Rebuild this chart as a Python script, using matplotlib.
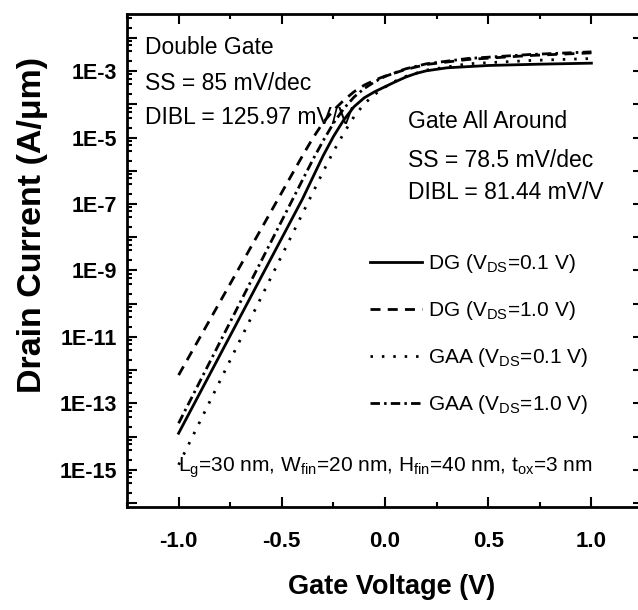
import numpy as np
import matplotlib
matplotlib.use("Agg")
import matplotlib.pyplot as plt
from matplotlib.ticker import FixedLocator, FuncFormatter, MultipleLocator

# data: gate voltage [V] vs log10(drain current [A/um])
vg_dg01 = [-1.0, -0.8, -0.6, -0.4, -0.3, -0.25, -0.2, -0.15, -0.1, -0.05, 0.0, 0.05, 0.1, 0.15, 0.2, 0.3, 0.5, 0.75, 1.0]
log_dg01 = [-13.9, -11.55, -9.2, -6.85, -5.55, -4.97, -4.47, -4.07, -3.8, -3.62, -3.47, -3.32, -3.18, -3.07, -2.99, -2.9, -2.83, -2.79, -2.76]

vg_dg10 = [-1.0, -0.8, -0.6, -0.4, -0.35, -0.3, -0.25, -0.2, -0.15, -0.1, -0.05, 0.0, 0.1, 0.2, 0.4, 0.7, 1.0]
log_dg10 = [-12.15, -9.95, -7.75, -5.55, -5.02, -4.55, -4.18, -3.88, -3.62, -3.42, -3.27, -3.15, -2.95, -2.8, -2.65, -2.53, -2.45]

vg_gaa01 = [-1.0, -0.8, -0.6, -0.4, -0.3, -0.25, -0.2, -0.15, -0.1, -0.05, 0.0, 0.05, 0.1, 0.2, 0.4, 0.7, 1.0]
log_gaa01 = [-14.85, -12.33, -9.81, -7.29, -6.03, -5.42, -4.87, -4.37, -3.98, -3.7, -3.48, -3.3, -3.16, -2.97, -2.78, -2.68, -2.62]

vg_gaa10 = [-1.0, -0.8, -0.6, -0.4, -0.35, -0.3, -0.25, -0.2, -0.15, -0.1, -0.05, 0.0, 0.1, 0.2, 0.4, 0.7, 1.0]
log_gaa10 = [-13.6, -11.16, -8.72, -6.28, -5.67, -5.1, -4.57, -4.13, -3.78, -3.52, -3.32, -3.16, -2.93, -2.78, -2.62, -2.5, -2.42]

legend_labels = [r"DG (V$_{\mathrm{DS}}$=0.1 V)", r"DG (V$_{\mathrm{DS}}$=1.0 V)",
                 r"GAA (V$_{\mathrm{DS}}$=0.1 V)", r"GAA (V$_{\mathrm{DS}}$=1.0 V)"]
xticks = [-1.0, -0.5, 0.0, 0.5, 1.0]
ydecades = list(range(-16, 0))

plt.rcParams["font.family"] = ["Liberation Sans", "DejaVu Sans"]
plt.rcParams["mathtext.fontset"] = "custom"
plt.rcParams["mathtext.rm"] = "Liberation Sans"

W, H = 638, 610
fig = plt.figure(figsize=(W / 100, H / 100), dpi=100)
# right spine sits just past the image edge in the original
ax = fig.add_axes([127 / W, 1 - 507 / H, (643 - 127) / W, (507 - 14) / H])

lw = 2.0
ax.plot(vg_dg01, 10.0 ** np.array(log_dg01), color="black", lw=lw, ls="-", label=legend_labels[0])
ax.plot(vg_dg10, 10.0 ** np.array(log_dg10), color="black", lw=lw, ls=(0, (3.6, 2.6)), label=legend_labels[1])
ax.plot(vg_gaa01, 10.0 ** np.array(log_gaa01), color="black", lw=lw, ls=(0, (0.9, 3.2)), label=legend_labels[2])
ax.plot(vg_gaa10, 10.0 ** np.array(log_gaa10), color="black", lw=lw, ls=(0, (3.4, 1.5, 0.9, 1.5)), label=legend_labels[3])

ax.set_yscale("log")
ax.set_xlim(-1.25, 1.25)
ax.set_ylim(10 ** -16.12, 10 ** -1.28)

ax.xaxis.set_major_locator(FixedLocator(xticks))
ax.xaxis.set_minor_locator(MultipleLocator(0.25))
ax.xaxis.set_major_formatter(FuncFormatter(lambda v, p: f"{v:.1f}"))

ax.yaxis.set_major_locator(FixedLocator([10.0 ** d for d in ydecades]))
minor = [m * 10.0 ** d for d in ydecades for m in (2, 4, 6, 8)]
ax.yaxis.set_minor_locator(FixedLocator(minor))
ax.yaxis.set_major_formatter(FuncFormatter(
    lambda v, p: f"1E{int(round(np.log10(v)))}" if int(round(np.log10(v))) % 2 else ""))

for s in ax.spines.values():
    s.set_linewidth(2.0)
ax.tick_params(which="both", direction="in", top=True, right=True, width=1.5)
ax.tick_params(which="major", length=7)
ax.tick_params(which="minor", length=3.5)
ax.tick_params(axis="x", which="major", pad=17)
ax.tick_params(axis="y", which="major", pad=7)
for lab in ax.get_xticklabels():
    lab.set_fontsize(16)
    lab.set_fontweight("bold")
for lab in ax.get_yticklabels():
    lab.set_fontsize(15.5)
    lab.set_fontweight("bold")

# annotation text
tx = dict(transform=fig.transFigure, fontsize=16.5, va="center", ha="left")
fig.text(145 / W, 1 - 47 / H, "Double Gate", **tx)
fig.text(145 / W, 1 - 83 / H, "SS = 85 mV/dec", **tx)
fig.text(145 / W, 1 - 117 / H, "DIBL = 125.97 mV/V", **tx)
fig.text(408 / W, 1 - 122 / H, "Gate All Around", **tx)
fig.text(408 / W, 1 - 160 / H, "SS = 78.5 mV/dec", **tx)
fig.text(408 / W, 1 - 192 / H, "DIBL = 81.44 mV/V", **tx)

fig.text(385 / W, 1 - 468 / H,
         r"L$_{\mathrm{g}}$=30 nm, W$_{\mathrm{fin}}$=20 nm, H$_{\mathrm{fin}}$=40 nm, t$_{\mathrm{ox}}$=3 nm",
         transform=fig.transFigure, fontsize=15, ha="center", va="center")

leg = ax.legend(loc="upper left", bbox_to_anchor=((370 - 127) / (643 - 127), (507 - 252) / (507 - 14)),
                frameon=False, fontsize=15, handlelength=2.5, handletextpad=0.3,
                labelspacing=1.15, borderaxespad=0, borderpad=0)

fig.text(33 / W, 1 - 225 / H, "Drain Current (A/\u03bcm)", rotation=90, ha="center", va="center",
         fontsize=24.5, fontweight="bold")
fig.text(392 / W, 1 - 587 / H, "Gate Voltage (V)", ha="center", va="center",
         fontsize=19.5, fontweight="bold")

fig.savefig("out.png", dpi=100)
